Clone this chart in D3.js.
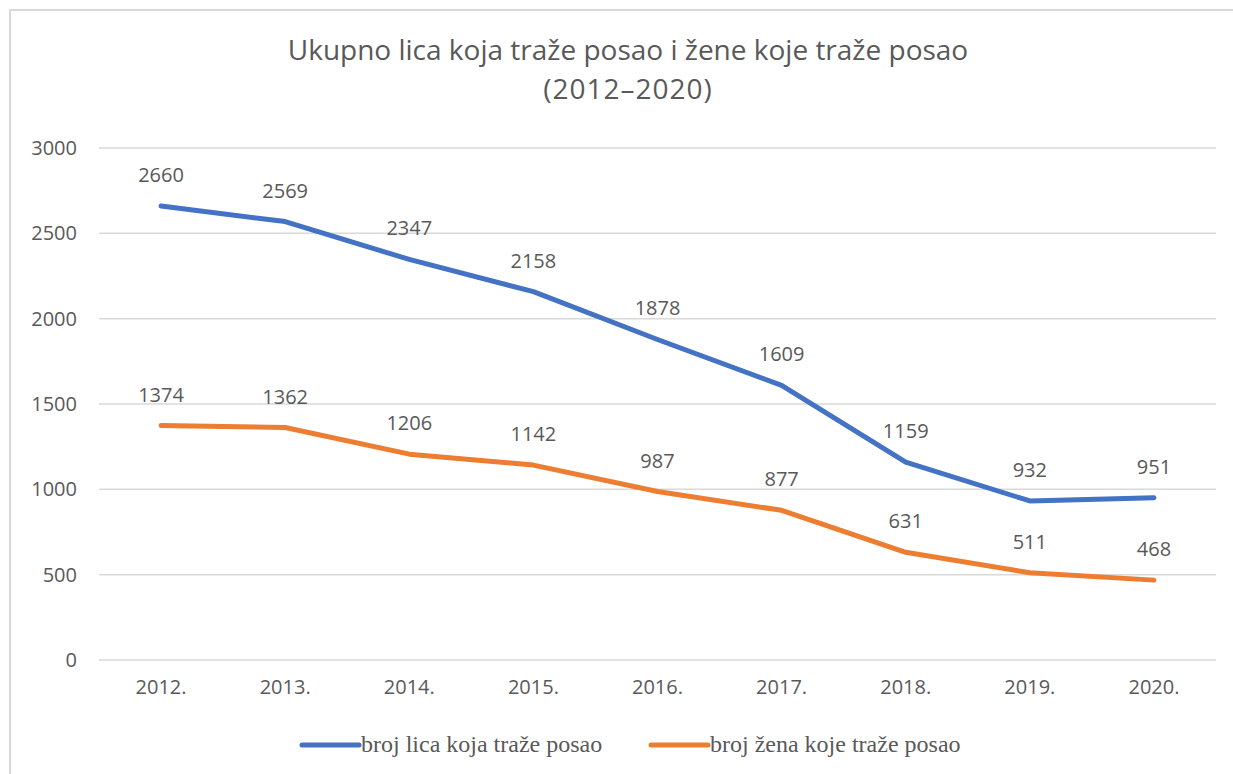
<!DOCTYPE html>
<html>
<head>
<meta charset="utf-8">
<script src="https://cdn.jsdelivr.net/npm/d3@7"></script>
<style>
  body { margin: 0; background: #fff; }
  text { font-family: "Open Sans", sans-serif; fill: #595959; }
</style>
</head>
<body>
<div id="chart"></div>
<script>
var years = ["2012.", "2013.", "2014.", "2015.", "2016.", "2017.", "2018.", "2019.", "2020."];
var totalSeekers = [2660, 2569, 2347, 2158, 1878, 1609, 1159, 932, 951];
var womenSeekers = [1374, 1362, 1206, 1142, 987, 877, 631, 511, 468];
var yTicks = [0, 500, 1000, 1500, 2000, 2500, 3000];
var seriesNames = ["broj lica koja traže posao", "broj žena koje traže posao"];
var seriesColors = ["#4472C4", "#ED7D31"];

var svgWidth = 1233;
var svgHeight = 774;

var svg = d3.select("#chart")
  .append("svg")
  .attr("width", svgWidth)
  .attr("height", svgHeight);

// outer chart border (only top and left visible in frame)
svg.append("rect")
  .attr("x", 10)
  .attr("y", 10)
  .attr("width", 1240)
  .attr("height", 790)
  .attr("fill", "none")
  .attr("stroke", "#d9d9d9")
  .attr("stroke-width", 2);

// title
var title = svg.append("text")
  .attr("text-anchor", "middle")
  .style("font-size", "28px");
title.append("tspan").attr("x", 628).attr("y", 60).text("Ukupno lica koja traže posao i žene koje traže posao");
title.append("tspan").attr("x", 628).attr("y", 99).attr("letter-spacing", "1px").text("(2012\u20132020)");

var xScale = d3.scaleBand().domain(years).range([99, 1216]);
var yScale = d3.scaleLinear().domain([0, 3000]).range([660, 148]);

// gridlines
svg.append("g")
  .selectAll("line")
  .data(yTicks)
  .enter()
  .append("line")
  .attr("x1", 99)
  .attr("x2", 1216)
  .attr("y1", d => yScale(d))
  .attr("y2", d => yScale(d))
  .attr("stroke", "#d9d9d9")
  .attr("stroke-width", 1.5);

// y axis
var leftAxis = d3.axisLeft(yScale).tickValues(yTicks).tickFormat(d3.format("d")).tickSize(0).tickPadding(0);
var yAxis = svg.append("g")
  .attr("transform", "translate(77,0)")
  .call(leftAxis);
yAxis.select(".domain").remove();
yAxis.selectAll("text")
  .style("font-size", "20px")
  .attr("fill", "#595959");

// x axis
var bottomAxis = d3.axisBottom(xScale).tickSize(0).tickPadding(0);
var xAxis = svg.append("g")
  .attr("transform", "translate(0,680)")
  .call(bottomAxis);
xAxis.select(".domain").remove();
xAxis.selectAll("text")
  .style("font-size", "20px")
  .attr("fill", "#595959");

var line = d3.line()
  .x((d, i) => xScale(years[i]) + xScale.bandwidth() / 2)
  .y(d => yScale(d));

[totalSeekers, womenSeekers].forEach(function(values, s) {
  svg.append("path")
    .datum(values)
    .attr("d", line)
    .attr("fill", "none")
    .attr("stroke", seriesColors[s])
    .attr("stroke-width", 5)
    .attr("stroke-linecap", "round")
    .attr("stroke-linejoin", "round");

  svg.append("g")
    .selectAll("text")
    .data(values)
    .enter()
    .append("text")
    .attr("x", (d, i) => xScale(years[i]) + xScale.bandwidth() / 2)
    .attr("y", d => yScale(d) - 24)
    .attr("text-anchor", "middle")
    .style("font-size", "20px")
    .text(d => d);
});

// legend
var legendX = [302, 651];
var legend = svg.append("g")
  .selectAll("g")
  .data(seriesNames)
  .enter()
  .append("g")
  .attr("transform", (d, i) => `translate(${legendX[i]}, 745)`);

legend.append("line")
  .attr("x1", 0)
  .attr("x2", 57)
  .attr("stroke", (d, i) => seriesColors[i])
  .attr("stroke-width", 5)
  .attr("stroke-linecap", "round");

legend.append("text")
  .attr("x", 59)
  .attr("y", 7)
  .style("font-family", "'Liberation Serif', serif")
  .style("font-size", "24px")
  .text(d => d);
</script>
</body>
</html>
